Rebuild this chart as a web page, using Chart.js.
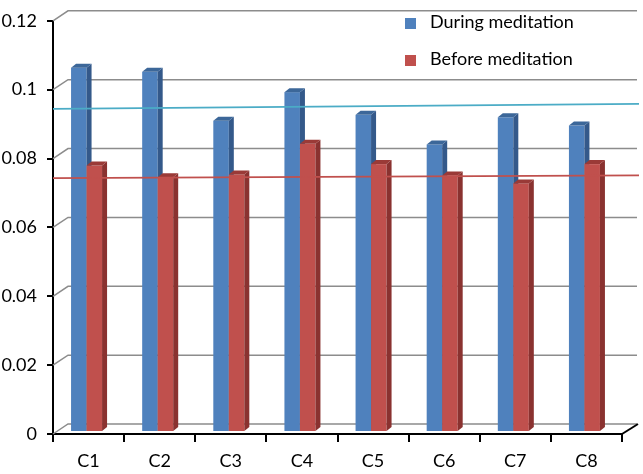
<!DOCTYPE html>
<html>
<head>
<meta charset="utf-8">
<script src="https://cdn.jsdelivr.net/npm/chart.js@4"></script>
<style>
  body { margin: 0; background: #fff; }
  #wrap { position: relative; width: 643px; height: 474px; }
  #legend { position: absolute; left: 405px; top: 11px; font-family: Lato, sans-serif; font-size: 18px; color: #000; }
  #legend div { height: 21px; line-height: 21px; margin-bottom: 16px; white-space: nowrap; }
  #legend span.box { display: inline-block; width: 11px; height: 11px; margin-right: 14px; vertical-align: -1px; }
</style>
</head>
<body>
<div id="wrap">
  <canvas id="chart" width="643" height="474"></canvas>
  <div id="legend"></div>
</div>
<script>
// categories and values
const categories = ['C1', 'C2', 'C3', 'C4', 'C5', 'C6', 'C7', 'C8'];
const during = [0.1058, 0.1046, 0.0904, 0.0987, 0.0921, 0.0835, 0.0914, 0.0890];
const before = [0.0774, 0.0740, 0.0748, 0.0837, 0.0778, 0.0745, 0.0722, 0.0778];
// straight reference lines: value at left end, value at right end
const duringLine = [0.0944, 0.0959];
const beforeLine = [0.0743, 0.0751];

const blue = { front: '#4F81BD', side: '#34598A', top: '#3C6799', line: '#4BACC6' };
const red = { front: '#C0504D', side: '#8A3230', top: '#9A3A37', line: '#C0504D' };
const colours = [blue, red];

// depth of the back wall and of the columns
const wall = { dx: 15, dy: 10 };
const col3d = { dx: 5, dy: 4 };

const faces = {
  id: 'faces',
  beforeDatasetsDraw(chart) {
    const ctx = chart.ctx, a = chart.chartArea, y = chart.scales.y;
    ctx.save();
    // back wall gridlines
    ctx.strokeStyle = '#8c8c8c';
    ctx.lineWidth = 1.5;
    y.ticks.forEach(t => {
      const py = y.getPixelForValue(t.value);
      ctx.beginPath();
      ctx.moveTo(a.left, py);
      ctx.lineTo(a.left + wall.dx, py - wall.dy);
      ctx.lineTo(a.right + wall.dx, py - wall.dy);
      ctx.stroke();
    });
    ctx.beginPath();
    ctx.moveTo(a.right, a.bottom);
    ctx.lineTo(a.right + wall.dx + 1, a.bottom - wall.dy);
    ctx.strokeStyle = '#000';
    ctx.lineWidth = 2;
    ctx.stroke();

    // columns: blue then red in each category, with side and top faces
    ctx.translate(-2, -2);
    const metas = [chart.getDatasetMeta(0), chart.getDatasetMeta(1)];
    categories.forEach((c, i) => {
      metas.forEach((meta, k) => {
        const bar = meta.data[i], col = colours[k];
        const l = bar.x - bar.width / 2, r = bar.x + bar.width / 2;
        ctx.fillStyle = col.front;
        ctx.fillRect(l, bar.y, r - l, bar.base - bar.y);
        ctx.fillStyle = col.side;
        ctx.beginPath();
        ctx.moveTo(r, bar.y);
        ctx.lineTo(r + col3d.dx, bar.y - col3d.dy);
        ctx.lineTo(r + col3d.dx, bar.base - col3d.dy);
        ctx.lineTo(r, bar.base);
        ctx.closePath();
        ctx.fill();
        ctx.fillStyle = col.top;
        ctx.beginPath();
        ctx.moveTo(l, bar.y);
        ctx.lineTo(l + col3d.dx, bar.y - col3d.dy);
        ctx.lineTo(r + col3d.dx, bar.y - col3d.dy);
        ctx.lineTo(r, bar.y);
        ctx.closePath();
        ctx.fill();
      });
    });
    ctx.restore();
  },
  beforeDatasetDraw() {
    return false;
  },
  afterDatasetsDraw(chart) {
    // the two straight lines over the columns
    const ctx = chart.ctx, a = chart.chartArea, y = chart.scales.y;
    ctx.save();
    ctx.lineWidth = 1.7;
    [duringLine, beforeLine].forEach((ln, k) => {
      ctx.strokeStyle = colours[k].line;
      ctx.beginPath();
      ctx.moveTo(a.left, y.getPixelForValue(ln[0]));
      ctx.lineTo(a.right + wall.dx + 2, y.getPixelForValue(ln[1]));
      ctx.stroke();
    });
    ctx.restore();
  }
};

const font = { family: 'Lato', size: 18 };

const chart = new Chart(document.getElementById('chart'), {
  type: 'bar',
  data: {
    labels: categories,
    datasets: [
      { label: 'During meditation', data: during, backgroundColor: blue.front },
      { label: 'Before meditation', data: before, backgroundColor: red.front }
    ]
  },
  options: {
    responsive: false,
    animation: false,
    devicePixelRatio: 1,
    categoryPercentage: 0.436,
    barPercentage: 1,
    layout: { padding: { top: 12, right: 21, left: 0, bottom: 0 } },
    plugins: { legend: { display: false }, tooltip: { enabled: false } },
    scales: {
      x: {
        offset: true,
        grid: { offset: true, drawOnChartArea: false, tickLength: 8, color: '#000', lineWidth: 2 },
        border: { color: '#000', width: 2 },
        ticks: { color: '#000', font: font, padding: 8 },
        afterFit(s) { s.height = 40; }
      },
      y: {
        min: 0, max: 0.12,
        grid: { drawOnChartArea: false, tickLength: 6, color: '#000', lineWidth: 2 },
        border: { color: '#000', width: 2 },
        ticks: {
          stepSize: 0.02, color: '#000', font: font, padding: 10,
          callback: v => String(+v.toFixed(2))
        },
        afterFit(s) { s.width = 53; }
      }
    }
  },
  plugins: [faces]
});

// legend from the bar datasets
const legend = document.getElementById('legend');
chart.data.datasets.forEach(ds => {
  const row = document.createElement('div');
  const box = document.createElement('span');
  box.className = 'box';
  box.style.background = ds.backgroundColor;
  row.appendChild(box);
  row.appendChild(document.createTextNode(ds.label));
  legend.appendChild(row);
});
</script>
</body>
</html>
